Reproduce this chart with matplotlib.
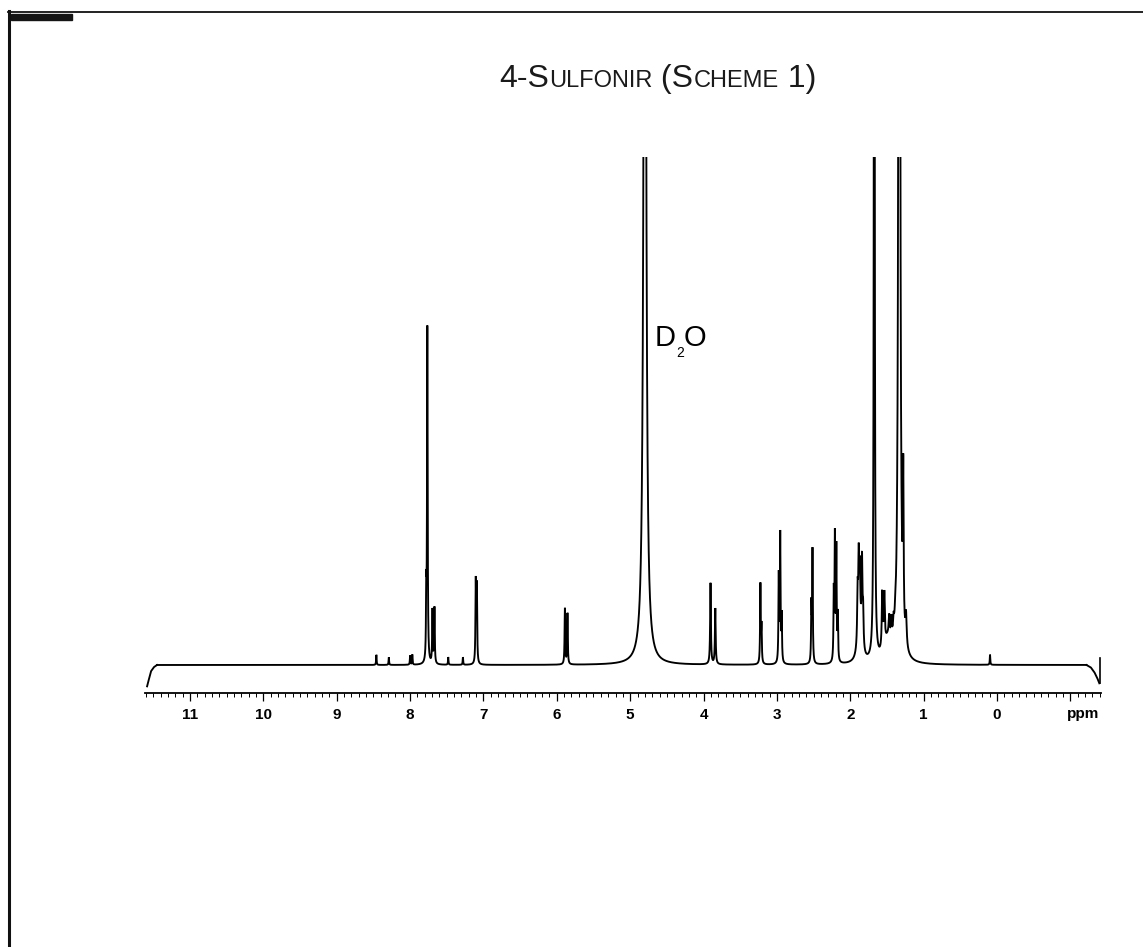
import numpy as np
import matplotlib
matplotlib.use("Agg")
import matplotlib.pyplot as plt
from matplotlib.lines import Line2D
from matplotlib.patches import Rectangle
from matplotlib.ticker import MultipleLocator, FixedLocator, FixedFormatter

# ---------------- data ----------------
title_parts = [("4-S", "big"), ("ULFONIR", "small"), (" (S", "big"),
               ("CHEME", "small"), (" 1)", "big")]
solvent_label = ("D", "2", "O")

# peak list: chemical shift (ppm), height (1.0 = top of plot), half width (ppm)
peak_ppm = [8.46, 8.29, 8.00, 7.97, 7.78, 7.765, 7.695, 7.668, 7.48, 7.28,
            7.105, 7.09, 5.89, 5.855, 4.80, 3.905, 3.84, 3.225, 3.21,
            2.975, 2.955, 2.935, 2.53, 2.515, 2.225, 2.21, 2.19, 2.17,
            1.90, 1.885, 1.87, 1.84, 1.825, 1.87, 1.673,
            1.564, 1.536, 1.47, 1.44, 1.41, 1.387, 1.49,
            1.332, 1.278, 1.24, 0.095]
peak_height = [0.02, 0.015, 0.018, 0.02, 0.12, 0.66, 0.105, 0.11, 0.015, 0.015,
               0.16, 0.15, 0.11, 0.10, 2.5, 0.16, 0.11, 0.155, 0.07,
               0.17, 0.25, 0.09, 0.11, 0.22, 0.13, 0.24, 0.22, 0.09,
               0.10, 0.14, 0.10, 0.16, 0.07, 0.07, 3.0,
               0.11, 0.10, 0.04, 0.04, 0.03, 0.02, 0.04,
               4.0, 0.30, 0.06, 0.02]
peak_width = [0.004, 0.004, 0.004, 0.004, 0.004, 0.005, 0.005, 0.005, 0.004, 0.004,
              0.005, 0.005, 0.005, 0.005, 0.0165, 0.006, 0.006, 0.005, 0.005,
              0.005, 0.005, 0.005, 0.005, 0.005, 0.005, 0.005, 0.005, 0.005,
              0.007, 0.007, 0.007, 0.007, 0.007, 0.03, 0.005,
              0.008, 0.008, 0.008, 0.008, 0.008, 0.008, 0.06,
              0.009, 0.006, 0.01, 0.004]

# baseline roll-off at both ends of the acquired window
edge_left_ppm = [11.585, 11.56, 11.53, 11.49, 11.45]
edge_left_int = [-0.042, -0.028, -0.012, -0.004, 0.0]
edge_right_ppm = [-1.22, -1.28, -1.33, -1.37, -1.395]
edge_right_int = [0.0, -0.005, -0.015, -0.027, -0.036]
end_marker_ppm = -1.404
end_marker_int = [0.014, -0.036]

major_ticks = [11, 10, 9, 8, 7, 6, 5, 4, 3, 2, 1, 0, -1]
major_labels = ["11", "10", "9", "8", "7", "6", "5", "4", "3", "2", "1", "0", ""]
axis_unit = "ppm"

# ---------------- figure ----------------
W, H = 1143, 947
fig = plt.figure(figsize=(W / 100, H / 100), dpi=100)
fig.patch.set_facecolor("white")
FONT = "Liberation Sans"


def fx(px):
    return px / W


def fy(py):
    return 1 - py / H


# page frame (scan border) and black bar
fig.add_artist(Line2D([fx(9), fx(9)], [fy(11), fy(947)], color="#111111", lw=2.2,
                      transform=fig.transFigure))
fig.add_artist(Line2D([fx(8), fx(1143)], [fy(12.5), fy(12.5)], color="#111111", lw=1.3,
                      transform=fig.transFigure))
fig.add_artist(Rectangle((fx(11), fy(20)), fx(72) - fx(11), fy(14.5) - fy(20),
                         color="#151515", transform=fig.transFigure))

# axes
ax_left, ax_right, ax_top, ax_bottom = 145, 1101, 157, 693
ax = fig.add_axes([fx(ax_left), fy(ax_bottom), fx(ax_right - ax_left),
                   fy(ax_top) - fy(ax_bottom)])
px_per_ppm = (997 - 190) / 11.0
xl = 11 + (190 - ax_left) / px_per_ppm
xr = 0 - (ax_right - 997) / px_per_ppm
base_px = 665
ylo = -(ax_bottom - base_px) / (base_px - ax_top)
ax.set_xlim(xl, xr)
ax.set_ylim(ylo, 1.0)

ppm = np.linspace(edge_left_ppm[-1], edge_right_ppm[0], 40000)
spec = np.zeros_like(ppm)
for c, h, w in zip(peak_ppm, peak_height, peak_width):
    spec += h * w ** 2 / ((ppm - c) ** 2 + w ** 2)

lw = 1.35
ax.plot(ppm, spec, color="black", lw=lw, solid_joinstyle="miter")
ax.plot(edge_left_ppm, edge_left_int, color="black", lw=lw)
ax.plot(edge_right_ppm, edge_right_int, color="black", lw=lw)
ax.plot([end_marker_ppm, end_marker_ppm], end_marker_int, color="black", lw=1.2,
        clip_on=False)

for s in ("left", "right", "top"):
    ax.spines[s].set_visible(False)
ax.spines["bottom"].set_linewidth(1.3)
ax.yaxis.set_visible(False)
ax.patch.set_alpha(0)

ax.xaxis.set_major_locator(FixedLocator(major_ticks))
ax.xaxis.set_major_formatter(FixedFormatter(major_labels))
ax.xaxis.set_minor_locator(MultipleLocator(0.1))
ax.tick_params(axis="x", which="major", direction="out", length=6, width=0.9,
               pad=4.5, labelsize=11)
ax.tick_params(axis="x", which="minor", direction="out", length=3, width=0.7)
for lab in ax.get_xticklabels():
    lab.set_fontfamily(FONT)
    lab.set_fontweight("bold")

fig.text(fx(1083), fy(714), axis_unit, ha="center", va="center", fontsize=11,
         fontweight="bold", family=FONT)

# ---------------- title with small caps ----------------
renderer = fig.canvas.get_renderer()
sizes = {"big": 23, "small": 17}
texts = []
total = 0.0
for s, kind in title_parts:
    t = fig.text(0, fy(87), s, fontsize=sizes[kind], family=FONT, va="baseline",
                 ha="left", color="#1a1a1a")
    wpx = t.get_window_extent(renderer).width
    texts.append((t, wpx))
    total += wpx
x0 = (500 + 815) / 2 - total / 2
for t, wpx in texts:
    t.set_x(fx(x0))
    x0 += wpx

# ---------------- D2O label ----------------
d_txt, sub_txt, o_txt = solvent_label
x0 = 655
t = fig.text(fx(x0), fy(346), d_txt, fontsize=21, family=FONT, va="baseline")
x0 += t.get_window_extent(renderer).width
t = fig.text(fx(x0), fy(357), sub_txt, fontsize=10, family=FONT, va="baseline")
x0 += t.get_window_extent(renderer).width
fig.text(fx(x0), fy(346), o_txt, fontsize=21, family=FONT, va="baseline")

fig.savefig("out.png", dpi=100)
